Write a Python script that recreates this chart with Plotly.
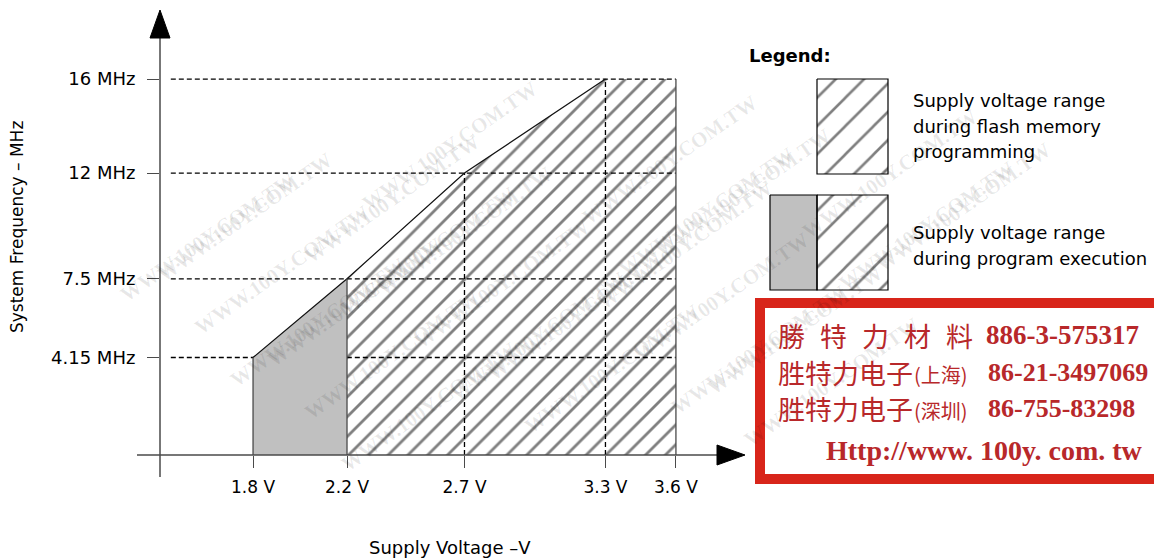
import math
import plotly.graph_objects as go

# ---------------- data ----------------
VOLTAGES = [1.8, 2.2, 2.7, 3.3, 3.6]           # supply voltage break points (V)
FREQ_MAX = [4.15, 7.5, 12, 16, 16]             # max system frequency at each voltage (MHz)
X_TICK_LABELS = ["1.8 V", "2.2 V", "2.7 V", "3.3 V", "3.6 V"]
Y_TICKS = [4.15, 7.5, 12, 16]
Y_TICK_LABELS = ["4.15 MHz", "7.5 MHz", "12 MHz", "16 MHz"]
EXEC_ONLY_RANGE = [1.8, 2.2]                   # program execution only (grey)
FLASH_RANGE = [2.2, 3.6]                       # flash programming allowed (hatched)
DASHED_V = [2.7, 3.3]                          # vertical dashed guides
DASH_FREQ_FOR_V = [12, 16]
X_RANGE = [1.404, 3.894]
Y_RANGE = [0, 18.94]
GRID_X0 = 1.45

LEGEND_TITLE = "Legend:"
LEGEND_1 = ["Supply voltage range", "during flash memory", "programming"]
LEGEND_2 = ["Supply voltage range", "during program execution"]

# stamp text, as far as it is visible in the reference
STAMP_L1_CHARS = ["勝", "特", "力", "材", "料"]
STAMP_L1_NUM = "886-3-575317"
STAMP_L2_CN, STAMP_L2_CITY, STAMP_L2_NUM = "胜特力电子", "(上海)", "86-21-3497069"
STAMP_L3_CN, STAMP_L3_CITY, STAMP_L3_NUM = "胜特力电子", "(深圳)", "86-755-83298"
STAMP_URL = "Http://www. 100y. com. tw"
WATERMARK = "WWW.100Y.COM.TW"

W, H = 1154, 559
FONT = "DejaVu Sans"
SERIF = "Liberation Serif, DejaVu Serif"
CJK = "Noto Sans CJK TC, Noto Sans CJK SC"
GREY = "#c0c0c0"
AXIS_C = "#4a4a4a"
STAMP_RED = "#d8251a"
STAMP_TXT = "#b8282a"


def px(x):
    return x / W


def py(y):
    return 1 - y / H


fig = go.Figure()

# ---- dashed guide lines ----
gx, gy = [], []
for f in Y_TICKS:
    gx += [GRID_X0, VOLTAGES[-1], None]
    gy += [f, f, None]
for v, f in zip(DASHED_V, DASH_FREQ_FOR_V):
    gx += [v, v, None]
    gy += [0, f, None]
fig.add_trace(go.Scatter(x=gx, y=gy, mode="lines", hoverinfo="skip",
                         line=dict(color="black", width=1.3, dash="5px,3px"),
                         showlegend=False))

# ---- grey region: execution only ----
i0 = VOLTAGES.index(EXEC_ONLY_RANGE[0])
i1 = VOLTAGES.index(EXEC_ONLY_RANGE[1])
gxs = [VOLTAGES[i0]] + VOLTAGES[i0:i1 + 1] + [VOLTAGES[i1]]
gys = [0] + FREQ_MAX[i0:i1 + 1] + [0]
fig.add_trace(go.Scatter(x=gxs, y=gys, mode="none", fill="toself",
                         fillcolor=GREY, hoverinfo="skip", showlegend=False))

# ---- hatched region: flash programming ----
j0 = VOLTAGES.index(FLASH_RANGE[0])
j1 = VOLTAGES.index(FLASH_RANGE[1])
hxs = [VOLTAGES[j0]] + VOLTAGES[j0:j1 + 1] + [VOLTAGES[j1]]
hys = [0] + FREQ_MAX[j0:j1 + 1] + [0]
fig.add_trace(go.Scatter(x=hxs, y=hys, mode="none", fill="toself",
                         fillcolor="rgba(0,0,0,0)",
                         fillpattern=dict(shape="/", size=14, solidity=0.2,
                                          fgcolor="black", bgcolor="rgba(0,0,0,0)"),
                         hoverinfo="skip", showlegend=False))

# ---- outline: upper boundary ----
ob = VOLTAGES.index(3.3)
fig.add_trace(go.Scatter(x=VOLTAGES[:ob + 1], y=FREQ_MAX[:ob + 1], mode="lines",
                         line=dict(color="#111111", width=1.2),
                         hoverinfo="skip", showlegend=False))
# vertical edges
vx, vy = [], []
for v in [EXEC_ONLY_RANGE[0], EXEC_ONLY_RANGE[1], FLASH_RANGE[1]]:
    vx += [v, v, None]
    vy += [0, FREQ_MAX[VOLTAGES.index(v)], None]
fig.add_trace(go.Scatter(x=vx, y=vy, mode="lines",
                         line=dict(color=AXIS_C, width=1.3),
                         hoverinfo="skip", showlegend=False))

# ---- legend swatches (pixel-like secondary axes) ----
def rect(x0, x1, y0, y1):
    return [x0, x1, x1, x0, x0], [y0, y0, y1, y1, y0]

hatch = dict(shape="/", size=20, solidity=0.13, fgcolor="black", bgcolor="rgba(0,0,0,0)")
bx, byy = rect(817, 888, 79, 174)
fig.add_trace(go.Scatter(x=bx, y=byy, xaxis="x2", yaxis="y2", mode="lines", fill="toself",
                         fillcolor="rgba(0,0,0,0)", fillpattern=hatch,
                         line=dict(color="black", width=1.2), hoverinfo="skip", showlegend=False))
bx, byy = rect(770, 817, 195, 290)
fig.add_trace(go.Scatter(x=bx, y=byy, xaxis="x2", yaxis="y2", mode="lines", fill="toself",
                         fillcolor=GREY, line=dict(color="black", width=1.2),
                         hoverinfo="skip", showlegend=False))
bx, byy = rect(817, 888, 195, 290)
fig.add_trace(go.Scatter(x=bx, y=byy, xaxis="x2", yaxis="y2", mode="lines", fill="toself",
                         fillcolor="rgba(0,0,0,0)", fillpattern=hatch,
                         line=dict(color="black", width=1.2), hoverinfo="skip", showlegend=False))

# ---- shapes: axes lines, arrows, stamp ----
shapes = [
    dict(type="line", xref="paper", yref="paper", x0=px(137), x1=px(735), y0=py(455), y1=py(455),
         line=dict(color=AXIS_C, width=1.5)),
    dict(type="line", xref="paper", yref="paper", x0=px(160), x1=px(160), y0=py(477), y1=py(20),
         line=dict(color=AXIS_C, width=1.5)),
    dict(type="path", xref="paper", yref="paper",
         path=f"M {px(160)} {py(10)} L {px(150)} {py(38)} L {px(170)} {py(38)} Z",
         fillcolor="black", line=dict(color="black", width=1)),
    dict(type="path", xref="paper", yref="paper",
         path=f"M {px(745)} {py(455)} L {px(717)} {py(445)} L {px(717)} {py(465)} Z",
         fillcolor="black", line=dict(color="black", width=1)),
    dict(type="rect", xref="paper", yref="paper", x0=px(755), x1=px(1170), y0=py(298), y1=py(484),
         fillcolor=STAMP_RED, line=dict(width=0), layer="above"),
    dict(type="rect", xref="paper", yref="paper", x0=px(765), x1=px(1170), y0=py(308), y1=py(474),
         fillcolor="white", line=dict(width=0), layer="above"),
]

# ---- annotations ----
ann = []


def text(x, y, s, size=18, color="black", family=FONT, xanchor="left", angle=0, bold=False):
    ann.append(dict(x=px(x), y=py(y), xref="paper", yref="paper", text=f"<b>{s}</b>" if bold else s,
                    showarrow=False, xanchor=xanchor, yanchor="middle", textangle=angle,
                    font=dict(family=family, size=size, color=color)))


# watermark lattice (faint), kept fully inside the page
th = math.radians(35)
ux, uy = math.cos(th), -math.sin(th)
vxx, vyy = math.sin(th), math.cos(th)
for i in range(-8, 9):
    for j in range(-12, 16):
        cx = 40 + i * 250 * ux + j * 64 * vxx
        cy = 60 + i * 250 * uy + j * 64 * vyy
        if 95 < cx < W - 95 and 68 < cy < H - 68:
            ann.append(dict(x=px(cx), y=py(cy), xref="paper", yref="paper",
                            text=f"<b>{WATERMARK}</b>", showarrow=False, textangle=-35,
                            font=dict(family=SERIF, size=21, color="rgba(0,0,0,0.09)")))

text(450, 547, "Supply Voltage –V", size=18, xanchor="center")
text(17, 227, "System Frequency – MHz", size=17, xanchor="center", angle=-90)
text(747, 56, LEGEND_TITLE, size=18, bold=True)
for k, s in enumerate(LEGEND_1):
    text(911, 101 + 25 * k, s)
for k, s in enumerate(LEGEND_2):
    text(911, 233 + 25 * k, s)

for k, c in enumerate(STAMP_L1_CHARS):
    text(791 + 42 * k, 335, c, size=27, color=STAMP_TXT, family=CJK, xanchor="center")
text(984, 335, f"<b>{STAMP_L1_NUM}</b>", size=27, color=STAMP_TXT, family=SERIF)
for yy, cn, city, num in [(372, STAMP_L2_CN, STAMP_L2_CITY, STAMP_L2_NUM),
                          (408, STAMP_L3_CN, STAMP_L3_CITY, STAMP_L3_NUM)]:
    text(776, yy, cn, size=27, color=STAMP_TXT, family=CJK)
    text(912, yy + 2, city, size=20, color=STAMP_TXT, family=CJK)
    text(986, yy, f"<b>{num}</b>", size=26, color=STAMP_TXT, family=SERIF)
text(984, 450, f"<b>{STAMP_URL}</b>", size=28, color=STAMP_TXT, family=SERIF, xanchor="center")

fig.update_layout(
    width=W, height=H, margin=dict(l=0, r=0, t=0, b=0),
    paper_bgcolor="white", plot_bgcolor="rgba(0,0,0,0)",
    showlegend=False, shapes=shapes, annotations=ann,
    xaxis=dict(domain=[px(160), px(745)], range=X_RANGE, tickvals=VOLTAGES, ticktext=X_TICK_LABELS,
               ticks="outside", ticklen=12, tickwidth=1.3, tickcolor=AXIS_C, showgrid=False,
               zeroline=False, showline=False, ticklabelstandoff=5, anchor="y",
               tickfont=dict(family=FONT, size=17, color="black"), fixedrange=True),
    yaxis=dict(domain=[py(455), py(10)], range=Y_RANGE, tickvals=Y_TICKS, ticktext=Y_TICK_LABELS,
               ticks="outside", ticklen=12, tickwidth=1.3, tickcolor=AXIS_C, showgrid=False,
               zeroline=False, showline=False, ticklabelstandoff=8, anchor="x",
               tickfont=dict(family=FONT, size=18, color="black"), fixedrange=True),
    xaxis2=dict(domain=[px(760), px(900)], range=[760, 900], visible=False, anchor="y2",
                fixedrange=True),
    yaxis2=dict(domain=[py(300), py(70)], range=[300, 70], visible=False, anchor="x2",
                fixedrange=True),
)

fig.write_html("out.html", config={"displayModeBar": False},
               post_script="document.body.style.margin='0';document.body.style.overflow='hidden';")
